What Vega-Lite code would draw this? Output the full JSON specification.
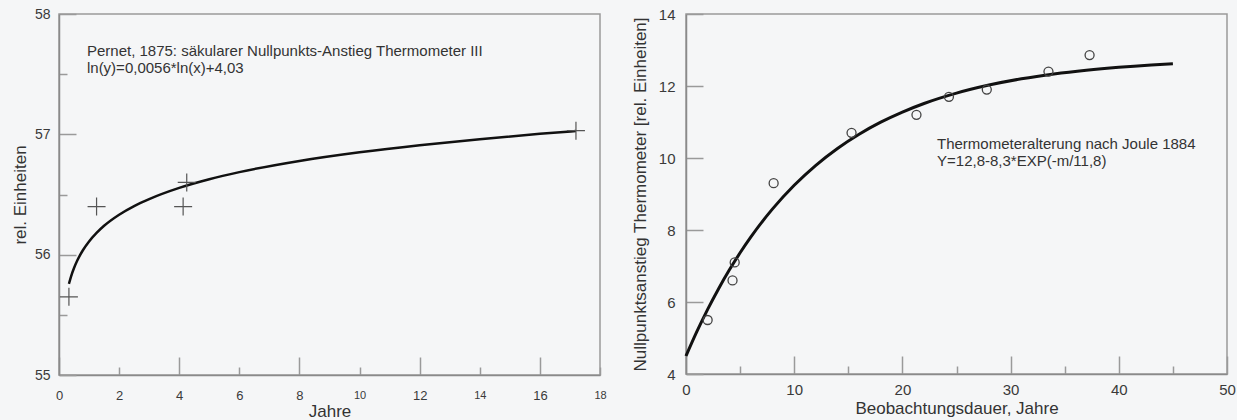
{
  "$schema": "https://vega.github.io/schema/vega-lite/v6.json",
  "background": "#f5f6f7",
  "padding": {"left": 10, "top": 6, "right": 0, "bottom": 0},
  "spacing": 23,
  "datasets": {
    "pernet_messwerte": [
      {"jahre": 0.33, "wert": 55.65},
      {"jahre": 1.25, "wert": 56.4},
      {"jahre": 4.13, "wert": 56.4},
      {"jahre": 4.25, "wert": 56.6},
      {"jahre": 17.2, "wert": 57.03}
    ],
    "pernet_kurve": [
      {"jahre": 0.33, "wert": 55.757},
      {"jahre": 0.4, "wert": 55.818},
      {"jahre": 0.5, "wert": 55.889},
      {"jahre": 0.6, "wert": 55.947},
      {"jahre": 0.7, "wert": 55.996},
      {"jahre": 0.8, "wert": 56.039},
      {"jahre": 1.0, "wert": 56.11},
      {"jahre": 1.25, "wert": 56.181},
      {"jahre": 1.5, "wert": 56.24},
      {"jahre": 2, "wert": 56.332},
      {"jahre": 2.5, "wert": 56.404},
      {"jahre": 3, "wert": 56.462},
      {"jahre": 4, "wert": 56.555},
      {"jahre": 5, "wert": 56.627},
      {"jahre": 6, "wert": 56.686},
      {"jahre": 8, "wert": 56.779},
      {"jahre": 10, "wert": 56.851},
      {"jahre": 12, "wert": 56.91},
      {"jahre": 14, "wert": 56.96},
      {"jahre": 16, "wert": 57.004},
      {"jahre": 17.2, "wert": 57.027}
    ],
    "joule_messwerte": [
      {"dauer": 2.0, "anstieg": 5.5},
      {"dauer": 4.3, "anstieg": 6.6},
      {"dauer": 4.5, "anstieg": 7.1},
      {"dauer": 8.1, "anstieg": 9.3},
      {"dauer": 15.3, "anstieg": 10.7},
      {"dauer": 21.3, "anstieg": 11.2},
      {"dauer": 24.3, "anstieg": 11.7},
      {"dauer": 27.8, "anstieg": 11.9},
      {"dauer": 33.5, "anstieg": 12.4},
      {"dauer": 37.3, "anstieg": 12.86}
    ],
    "joule_kurve": [
      {"dauer": 0, "anstieg": 4.5},
      {"dauer": 1, "anstieg": 5.174},
      {"dauer": 2, "anstieg": 5.794},
      {"dauer": 3, "anstieg": 6.363},
      {"dauer": 4, "anstieg": 6.886},
      {"dauer": 5, "anstieg": 7.367},
      {"dauer": 6, "anstieg": 7.808},
      {"dauer": 8, "anstieg": 8.587},
      {"dauer": 10, "anstieg": 9.243},
      {"dauer": 12, "anstieg": 9.798},
      {"dauer": 14, "anstieg": 10.266},
      {"dauer": 16, "anstieg": 10.661},
      {"dauer": 18, "anstieg": 10.995},
      {"dauer": 20, "anstieg": 11.276},
      {"dauer": 22, "anstieg": 11.514},
      {"dauer": 25, "anstieg": 11.802},
      {"dauer": 28, "anstieg": 12.026},
      {"dauer": 31, "anstieg": 12.2},
      {"dauer": 34, "anstieg": 12.335},
      {"dauer": 37, "anstieg": 12.439},
      {"dauer": 40, "anstieg": 12.52},
      {"dauer": 43, "anstieg": 12.583},
      {"dauer": 45, "anstieg": 12.617}
    ]
  },
  "config": {
    "font": "Liberation Sans",
    "view": {"stroke": "#9a9a9a", "strokeWidth": 1.5, "fill": "#f5f6f7"},
    "axis": {
      "grid": false,
      "domainColor": "#8a8a8a",
      "domainWidth": 1.5,
      "tickColor": "#9a9a9a",
      "tickWidth": 1.5,
      "labelColor": "#3a3a3a",
      "labelFlush": false,
      "labelOverlap": false,
      "titleColor": "#333333",
      "titleFontWeight": "normal",
      "titleFontSize": 17
    }
  },
  "hconcat": [
    {
      "width": 541,
      "height": 361,
      "layer": [
        {
          "data": {"name": "pernet_kurve"},
          "mark": {"type": "line", "color": "#111111", "strokeWidth": 2.5, "interpolate": "monotone"},
          "encoding": {
            "x": {
              "field": "jahre", "type": "quantitative",
              "scale": {"domain": [0, 18], "nice": false, "zero": false},
              "axis": {
                "title": "Jahre",
                "values": [0, 2, 4, 6, 8, 10, 12, 14, 16, 18],
                "format": "d",
                "tickSize": {"condition": {"test": "datum.value % 4 === 0", "value": -18}, "value": -8},
                "labelPadding": {"condition": {"test": "datum.value % 4 === 0", "value": 32}, "value": 22},
                "labelFontSize": {"condition": {"test": "datum.value === 10 || datum.value === 14 || datum.value === 18", "value": 11}, "value": 13},
                "titlePadding": 1
              }
            },
            "y": {
              "field": "wert", "type": "quantitative",
              "scale": {"domain": [55, 58], "nice": false, "zero": false},
              "axis": {
                "title": "rel. Einheiten",
                "values": [55, 55.5, 56, 56.5, 57, 57.5, 58],
                "labelExpr": "datum.value % 1 === 0 ? format(datum.value, 'd') : ''",
                "tickSize": {"condition": {"test": "datum.value % 1 === 0", "value": -17}, "value": -8},
                "labelPadding": {"condition": {"test": "datum.value % 1 === 0", "value": 26}, "value": 17},
                "labelFontSize": 14,
                "titlePadding": 5
              }
            }
          }
        },
        {
          "data": {"name": "pernet_messwerte"},
          "mark": {"type": "point", "shape": "M-1,0L1,0M0,-1L0,1", "size": 324, "filled": false, "color": "#555555", "strokeWidth": 1.2, "opacity": 1},
          "encoding": {
            "x": {"field": "jahre", "type": "quantitative"},
            "y": {"field": "wert", "type": "quantitative"}
          }
        },
        {
          "data": {"values": [{}]},
          "mark": {
            "type": "text",
            "text": ["Pernet, 1875: säkularer Nullpunkts-Anstieg Thermometer III", "ln(y)=0,0056*ln(x)+4,03"],
            "align": "left", "baseline": "top", "fontSize": 15, "lineHeight": 17, "color": "#333333"
          },
          "encoding": {
            "x": {"datum": 0.93, "type": "quantitative"},
            "y": {"datum": 57.754, "type": "quantitative"}
          }
        }
      ]
    },
    {
      "width": 541,
      "height": 360,
      "layer": [
        {
          "data": {"name": "joule_kurve"},
          "mark": {"type": "line", "color": "#111111", "strokeWidth": 3, "interpolate": "monotone"},
          "encoding": {
            "x": {
              "field": "dauer", "type": "quantitative",
              "scale": {"domain": [0, 50], "nice": false, "zero": false},
              "axis": {
                "title": "Beobachtungsdauer, Jahre",
                "values": [0, 5, 10, 15, 20, 25, 30, 35, 40, 45, 50],
                "labelExpr": "datum.value % 10 === 0 ? format(datum.value, 'd') : ''",
                "tickSize": {"condition": {"test": "datum.value % 10 === 0", "value": -18}, "value": -8},
                "labelPadding": {"condition": {"test": "datum.value % 10 === 0", "value": 26}, "value": 16},
                "labelFontSize": 15,
                "titlePadding": 3
              }
            },
            "y": {
              "field": "anstieg", "type": "quantitative",
              "scale": {"domain": [4, 14], "nice": false, "zero": false},
              "axis": {
                "title": "Nullpunktsanstieg Thermometer [rel. Einheiten]",
                "values": [4, 5, 6, 7, 8, 9, 10, 11, 12, 13, 14],
                "labelExpr": "datum.value % 2 === 0 ? format(datum.value, 'd') : ''",
                "tickSize": {"condition": {"test": "datum.value % 2 === 0", "value": -17}, "value": -8},
                "labelPadding": {"condition": {"test": "datum.value % 2 === 0", "value": 28}, "value": 19},
                "labelFontSize": 15,
                "titlePadding": 9
              }
            }
          }
        },
        {
          "data": {"name": "joule_messwerte"},
          "mark": {"type": "point", "shape": "circle", "size": 81, "filled": false, "color": "#444444", "strokeWidth": 1.3, "opacity": 1},
          "encoding": {
            "x": {"field": "dauer", "type": "quantitative"},
            "y": {"field": "anstieg", "type": "quantitative"}
          }
        },
        {
          "data": {"values": [{}]},
          "mark": {
            "type": "text",
            "text": ["Thermometeralterung nach Joule 1884", "Y=12,8-8,3*EXP(-m/11,8)"],
            "align": "left", "baseline": "top", "fontSize": 15, "lineHeight": 17, "color": "#333333"
          },
          "encoding": {
            "x": {"datum": 23.2, "type": "quantitative"},
            "y": {"datum": 10.57, "type": "quantitative"}
          }
        }
      ]
    }
  ]
}
